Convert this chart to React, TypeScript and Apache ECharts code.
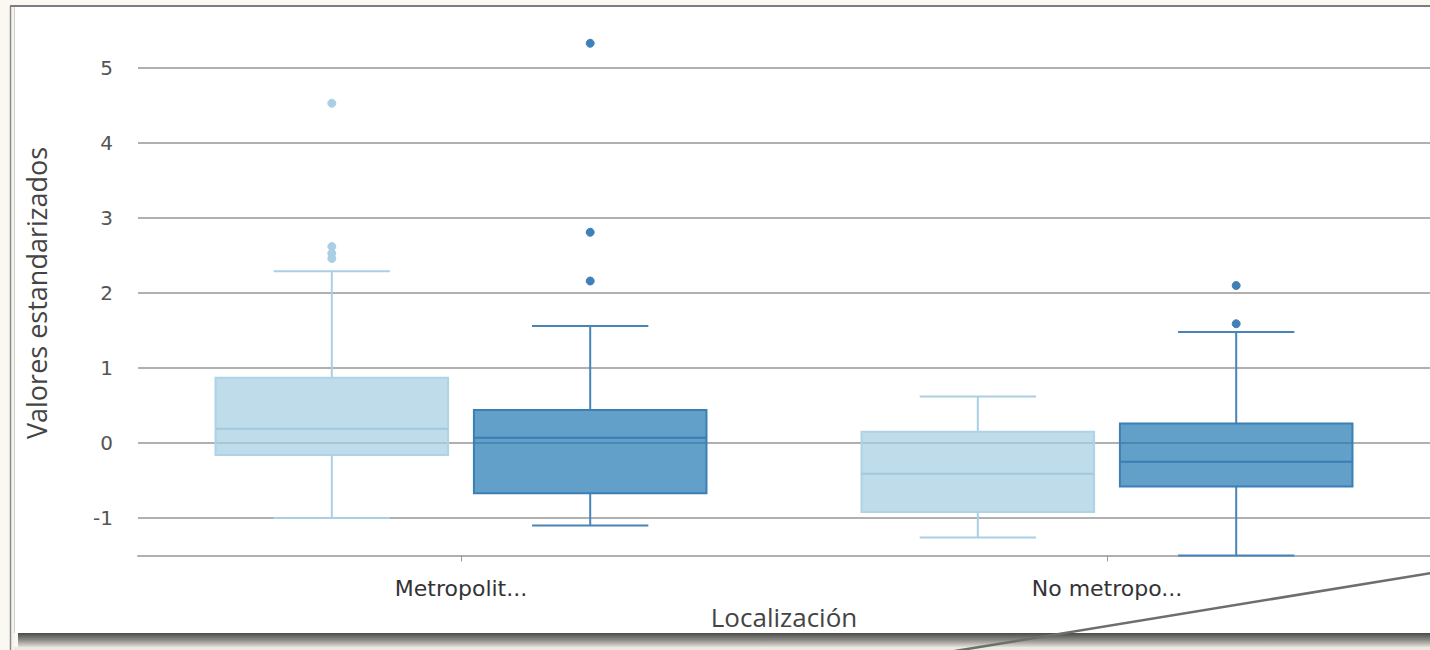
import React, { useEffect, useRef } from "react";
import * as echarts from "echarts";

const categories = ["Metropolit...", "No metropo..."];
// [categoryIndex, min, q1, median, q3, max]
const lightBoxes = [
  [0, -1.0, -0.16, 0.19, 0.87, 2.29],
  [1, -1.26, -0.92, -0.41, 0.15, 0.62],
];
const darkBoxes = [
  [0, -1.1, -0.67, 0.07, 0.44, 1.56],
  [1, -1.5, -0.58, -0.25, 0.26, 1.48],
];
// [categoryIndex, value]
const lightOutliers = [
  [0, 4.53],
  [0, 2.62],
  [0, 2.53],
  [0, 2.46],
];
const darkOutliers = [
  [0, 5.33],
  [0, 2.81],
  [0, 2.16],
  [1, 2.1],
  [1, 1.59],
];

const LIGHT = {
  offset: -0.2,
  fill: "rgba(166,206,227,0.72)",
  stroke: "#aed2e6",
  whisker: "#a9cfe4",
  median: "#a3c8dd",
  dot: "#a9cfe4",
};
const DARK = {
  offset: 0.2,
  fill: "rgba(31,120,180,0.7)",
  stroke: "#3c7fb5",
  whisker: "#4785b8",
  median: "#3a7cb3",
  dot: "#3f80b6",
};
const BOX_FRAC = 0.36;

function boxRenderer(cfg: any) {
  return (params: any, api: any) => {
    const cat = api.value(0);
    const band = api.size([1, 0])[0];
    const c = api.coord([cat, 0])[0] + cfg.offset * band;
    const w = BOX_FRAC * band;
    const y = (i: number) => api.coord([cat, api.value(i)])[1];
    const yMin = y(1), yQ1 = y(2), yMed = y(3), yQ3 = y(4), yMax = y(5);
    const cap = w / 4;
    const ws = { stroke: cfg.whisker, lineWidth: 2 };
    return {
      type: "group",
      children: [
        { type: "line", shape: { x1: c, y1: yMax, x2: c, y2: yQ3 }, style: ws },
        { type: "line", shape: { x1: c, y1: yQ1, x2: c, y2: yMin }, style: ws },
        { type: "line", shape: { x1: c - cap, y1: yMax, x2: c + cap, y2: yMax }, style: ws },
        { type: "line", shape: { x1: c - cap, y1: yMin, x2: c + cap, y2: yMin }, style: ws },
        {
          type: "rect",
          shape: { x: c - w / 2, y: yQ3, width: w, height: yQ1 - yQ3 },
          style: { fill: cfg.fill, stroke: cfg.stroke, lineWidth: 2 },
        },
        {
          type: "line",
          shape: { x1: c - w / 2, y1: yMed, x2: c + w / 2, y2: yMed },
          style: { stroke: cfg.median, lineWidth: 2 },
        },
      ],
    };
  };
}

function dotRenderer(cfg: any) {
  return (params: any, api: any) => {
    const band = api.size([1, 0])[0];
    const p = api.coord([api.value(0), api.value(1)]);
    return {
      type: "circle",
      shape: { cx: p[0] + cfg.offset * band, cy: p[1], r: 4 },
      style: { fill: cfg.dot, stroke: cfg.dot, lineWidth: 1 },
    };
  };
}

export default function App() {
  const ref = useRef<HTMLDivElement>(null);
  useEffect(() => {
    if (!ref.current) return;
    const chart = echarts.init(ref.current, null, { renderer: "svg" });
    const option: any = {
      animation: false,
      backgroundColor: "#fbf8f1",
      grid: { left: 138, top: 30.5, width: 1294, height: 525 },
      xAxis: {
        type: "category",
        data: categories,
        name: "Localización",
        nameLocation: "middle",
        nameGap: 43,
        nameTextStyle: { fontFamily: "Open Sans", fontSize: 26, color: "#444" },
        axisLine: { show: true, onZero: false, lineStyle: { color: "#b0b0b0", width: 2 } },
        axisTick: { show: true, alignWithLabel: true, length: 6, lineStyle: { color: "#999", width: 1 } },
        axisLabel: { fontFamily: "DejaVu Sans", fontSize: 22, color: "#333", margin: 22 },
        splitLine: { show: false },
      },
      yAxis: {
        type: "value",
        min: -1.5,
        max: 5.5,
        splitNumber: 7,
        name: "Valores estandarizados",
        nameLocation: "middle",
        nameGap: 88,
        nameTextStyle: { fontFamily: "Open Sans", fontSize: 27, color: "#444" },
        axisLine: { show: false },
        axisTick: { show: false },
        axisLabel: {
          fontFamily: "DejaVu Sans",
          fontSize: 20,
          color: "#555",
          margin: 25,
          showMinLabel: false,
          showMaxLabel: false,
          formatter: (v: number) => (Number.isInteger(v) ? String(v) : ""),
        },
        splitLine: {
          show: true,
          showMinLine: false,
          showMaxLine: false,
          lineStyle: { color: "#b0b0b0", width: 2 },
        },
      },
      graphic: [
        { type: "rect", z: -100, shape: { x: 14, y: 7, width: 1416, height: 626 }, style: { fill: "#ffffff" } },
        { type: "rect", z: -99, shape: { x: 11, y: 7, width: 3, height: 643 }, style: { fill: "#f4f3ef" } },
        {
          type: "rect",
          z: -99,
          shape: { x: 18, y: 633, width: 1412, height: 14 },
          style: {
            fill: new echarts.graphic.LinearGradient(0, 0, 0, 1, [
              { offset: 0, color: "#4a4a48" },
              { offset: 0.5, color: "#8c8b86" },
              { offset: 1, color: "#e2e0d8" },
            ]),
          },
        },
        { type: "rect", z: -99, shape: { x: 14, y: 647, width: 1416, height: 3 }, style: { fill: "#ebe9e2" } },
        { type: "line", z: -98, shape: { x1: 10.5, y1: 6, x2: 10.5, y2: 650 }, style: { stroke: "#8a8a8a", lineWidth: 1.5 } },
        { type: "line", z: -98, shape: { x1: 14.5, y1: 7, x2: 14.5, y2: 633 }, style: { stroke: "#cfcfcf", lineWidth: 1 } },
        { type: "line", z: -98, shape: { x1: 10, y1: 6, x2: 1430, y2: 6 }, style: { stroke: "#7d7d7d", lineWidth: 2 } },
        { type: "line", z: 100, shape: { x1: 955, y1: 651, x2: 1431, y2: 573 }, style: { stroke: "#6e6e6e", lineWidth: 2.5 } },
      ],
      series: [
        {
          type: "custom",
          name: "light",
          renderItem: boxRenderer(LIGHT),
          encode: { x: 0, y: [1, 2, 3, 4, 5] },
          data: lightBoxes,
        },
        {
          type: "custom",
          name: "dark",
          renderItem: boxRenderer(DARK),
          encode: { x: 0, y: [1, 2, 3, 4, 5] },
          data: darkBoxes,
        },
        {
          type: "custom",
          name: "lightOut",
          renderItem: dotRenderer(LIGHT),
          encode: { x: 0, y: 1 },
          data: lightOutliers,
        },
        {
          type: "custom",
          name: "darkOut",
          renderItem: dotRenderer(DARK),
          encode: { x: 0, y: 1 },
          data: darkOutliers,
        },
      ],
    };
    chart.setOption(option);
    return () => chart.dispose();
  }, []);
  return (
    <div
      ref={ref}
      style={{ position: "absolute", left: 0, top: 0, width: 1430, height: 650 }}
    />
  );
}
